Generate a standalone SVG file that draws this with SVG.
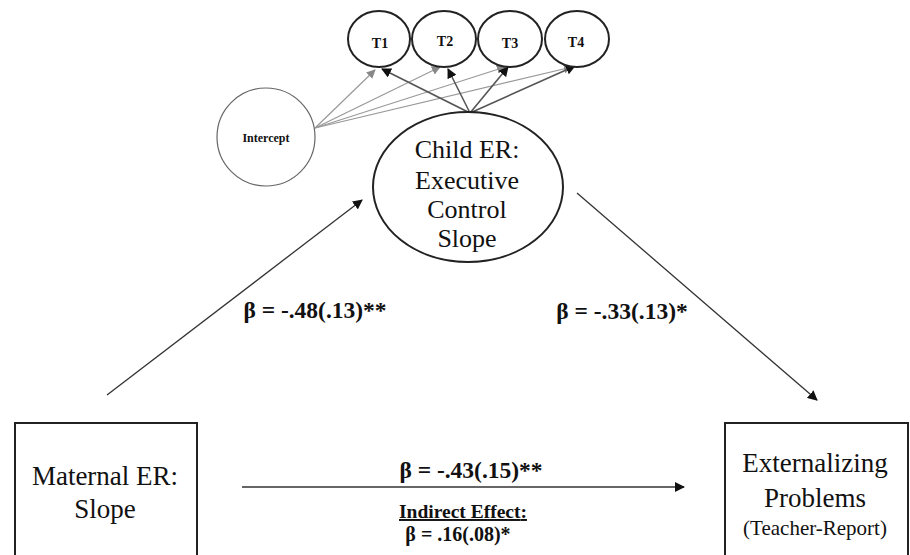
<svg xmlns="http://www.w3.org/2000/svg" width="910" height="555" viewBox="0 0 910 555">
<style>
.node{fill:#fff;stroke:#222;stroke-width:2}
.thin{fill:#fff;stroke:#666;stroke-width:1.2}
.t{font-family:'Liberation Serif','Times New Roman',Tinos,'DejaVu Serif',serif;fill:#111;text-anchor:middle}
.b{font-weight:bold}
.e{stroke:#333;stroke-width:1.3;fill:none;marker-end:url(#ah)}
.g{stroke:#999;stroke-width:1.2;fill:none;marker-end:url(#ahg)}
.d{stroke:#555;stroke-width:1.6;fill:none;marker-end:url(#ah)}
</style>
<defs>
<marker id="ah" viewBox="0 0 10 10" refX="9" refY="5" markerWidth="10" markerHeight="10" markerUnits="userSpaceOnUse" orient="auto"><path d="M0,0 L10,5 L0,10 z" fill="#111"/></marker>
<marker id="ahg" viewBox="0 0 10 10" refX="9" refY="5" markerWidth="9" markerHeight="9" markerUnits="userSpaceOnUse" orient="auto"><path d="M0,0 L10,5 L0,10 z" fill="#888"/></marker>
</defs>
<rect width="910" height="555" fill="#fff"/>
<g id="connectors">
<line class="g" x1="315" y1="128" x2="375" y2="70"/>
<line class="g" x1="315" y1="128" x2="440" y2="67"/>
<line class="g" x1="315" y1="128" x2="505" y2="67"/>
<line class="g" x1="315" y1="128" x2="572" y2="67"/>
<line class="d" x1="470" y1="113" x2="382" y2="69"/>
<line class="d" x1="470" y1="113" x2="448" y2="69"/>
<line class="d" x1="470" y1="113" x2="508" y2="67"/>
<line class="d" x1="470" y1="113" x2="575" y2="66"/>
<line class="e" x1="107" y1="395" x2="362" y2="200"/>
<line class="e" x1="577" y1="193" x2="817" y2="400"/>
<line class="e" x1="242" y1="487" x2="684" y2="487"/>
</g>
<g id="T1"><ellipse class="node" cx="379" cy="39" rx="31" ry="28"/><text class="t b" x="380" y="48" font-size="14">T1</text></g>
<g id="T2"><ellipse class="node" cx="444" cy="39" rx="32" ry="28"/><text class="t b" x="445" y="46" font-size="14">T2</text></g>
<g id="T3"><ellipse class="node" cx="510" cy="39" rx="32" ry="28"/><text class="t b" x="510" y="48" font-size="14">T3</text></g>
<g id="T4"><ellipse class="node" cx="577" cy="39" rx="32" ry="28"/><text class="t b" x="576" y="47" font-size="14">T4</text></g>
<g id="intercept"><circle class="thin" cx="266" cy="137" r="49"/><text class="t b" x="266" y="142" font-size="12">Intercept</text></g>
<g id="childER"><ellipse class="node" cx="468" cy="187" rx="95" ry="75"/>
<text class="t" font-size="26"><tspan x="467" y="158">Child ER:</tspan><tspan x="467" y="189">Executive</tspan><tspan x="467" y="218">Control</tspan><tspan x="467" y="247">Slope</tspan></text></g>
<g id="maternal"><rect class="node" x="15" y="423" width="182" height="140"/>
<text class="t" font-size="27"><tspan x="105" y="485">Maternal ER:</tspan><tspan x="105" y="518">Slope</tspan></text></g>
<g id="external"><rect class="node" x="725" y="423" width="183" height="140"/>
<text class="t" font-size="27"><tspan x="815" y="472">Externalizing</tspan><tspan x="815" y="507">Problems</tspan></text>
<text class="t" font-size="21" x="815" y="535">(Teacher-Report)</text></g>
<g id="labels">
<text class="t b" font-size="23.5" x="315" y="318">β = -.48(.13)**</text>
<text class="t b" font-size="23.5" x="622" y="319">β = -.33(.13)*</text>
<text class="t b" font-size="23.5" x="471" y="478">β = -.43(.15)**</text>
<text class="t b" font-size="19.5" x="463" y="518" text-decoration="underline">Indirect Effect<tspan text-decoration="none">:</tspan></text>
<text class="t b" font-size="20" x="458" y="541">β = .16(.08)*</text>
</g>
</svg>
